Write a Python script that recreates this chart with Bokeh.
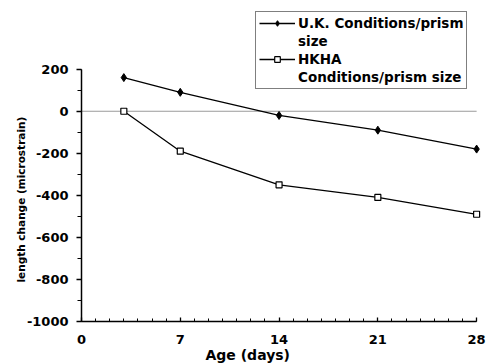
from bokeh.plotting import figure
from bokeh.models import Legend, LegendItem, Title, FixedTicker, Range1d
from bokeh.embed import file_html
from bokeh.resources import INLINE

# Length change of prisms over curing age
age_days = [3, 7, 14, 21, 28]
uk_strain = [160, 90, -20, -90, -180]
hkha_strain = [0, -190, -350, -410, -490]

x_ticks = [0, 7, 14, 21, 28]
y_ticks = [200, 0, -200, -400, -600, -800, -1000]
y_tick_labels = ["200", "0", "-200", "-400", "-600", "-800", "-1000"]
# each series name is shown on two legend rows
uk_label_rows = ["U.K. Conditions/prism", "size"]
hkha_label_rows = ["HKHA", "Conditions/prism size"]

FONT = "DejaVu Sans"

# The frame reaches the top and right of the canvas so the legend box can sit
# above the plotted region; the axes themselves are bounded to the data span.
p = figure(width=486, height=364, output_backend="svg", toolbar_location=None,
           x_range=Range1d(0, 28.7), y_range=Range1d(-1000, 503),
           min_border_left=81, min_border_right=0,
           min_border_top=5, min_border_bottom=42)
p.outline_line_color = None
p.grid.visible = False
p.background_fill_color = "white"
p.border_fill_color = "white"

# zero reference line across the age span
p.line([x_ticks[0], x_ticks[-1]], [0, 0], line_color="#9a9a9a", line_width=1)

uk_line = p.line(age_days, uk_strain, line_color="black", line_width=1.3)
uk_pts = p.scatter(age_days, uk_strain, marker="diamond", size=8,
                   fill_color="black", line_color="black")
hk_line = p.line(age_days, hkha_strain, line_color="black", line_width=1.3)
hk_pts = p.scatter(age_days, hkha_strain, marker="square", size=6,
                   fill_color="white", line_color="black", line_width=1.2)
# empty, transparent renderer for the continuation rows of the legend
blank = p.line([], [], line_alpha=0)

# axes
xa = p.xaxis[0]
xa.bounds = (0, 28)
xa.ticker = FixedTicker(ticks=x_ticks, minor_ticks=list(range(0, 29)))
xa.major_tick_in = 4
xa.major_tick_out = 0
xa.minor_tick_in = 3
xa.minor_tick_out = 0
xa.major_label_standoff = 13

ya = p.yaxis[0]
ya.bounds = (-1000, 200)
ya.ticker = FixedTicker(ticks=y_ticks, minor_ticks=list(range(-1000, 201, 100)))
ya.major_label_overrides = {t: s for t, s in zip(y_ticks, y_tick_labels)}
ya.major_tick_in = 0
ya.major_tick_out = 5
ya.minor_tick_in = 0
ya.minor_tick_out = 4
ya.major_label_standoff = 8

for ax in (xa, ya):
    ax.axis_line_color = "black"
    ax.axis_line_width = 1.5
    ax.major_tick_line_color = "black"
    ax.minor_tick_line_color = "black"
    ax.major_tick_line_width = 1.3
    ax.major_label_text_font = FONT
    ax.major_label_text_font_style = "bold"
    ax.major_label_text_font_size = "13px"
    ax.major_label_text_color = "black"

p.add_layout(Title(text="length change (microstrain)", align="left", offset=39,
                   text_font=FONT, text_font_style="bold", text_font_size="10.5px",
                   text_color="black", standoff=-6), "left")
p.add_layout(Title(text="Age (days)", align="left", offset=124, vertical_align="top",
                   text_font=FONT, text_font_style="bold", text_font_size="14px",
                   text_color="black", standoff=0), "below")

legend = Legend(items=[LegendItem(label=uk_label_rows[0], renderers=[uk_line, uk_pts]),
                       LegendItem(label=uk_label_rows[1], renderers=[blank]),
                       LegendItem(label=hkha_label_rows[0], renderers=[hk_line, hk_pts]),
                       LegendItem(label=hkha_label_rows[1], renderers=[blank])],
                location=(174, 232), orientation="vertical")
legend.border_line_color = "black"
legend.border_line_width = 1.2
legend.background_fill_alpha = 1
legend.label_text_font = FONT
legend.label_text_font_style = "bold"
legend.label_text_font_size = "13.5px"
legend.label_text_color = "black"
legend.glyph_width = 36
legend.glyph_height = 14
legend.label_height = 14
legend.label_standoff = 3
legend.padding = 3
legend.spacing = 2
legend.margin = 0
p.add_layout(legend, "center")

open("out.html", "w").write(file_html(p, INLINE))
